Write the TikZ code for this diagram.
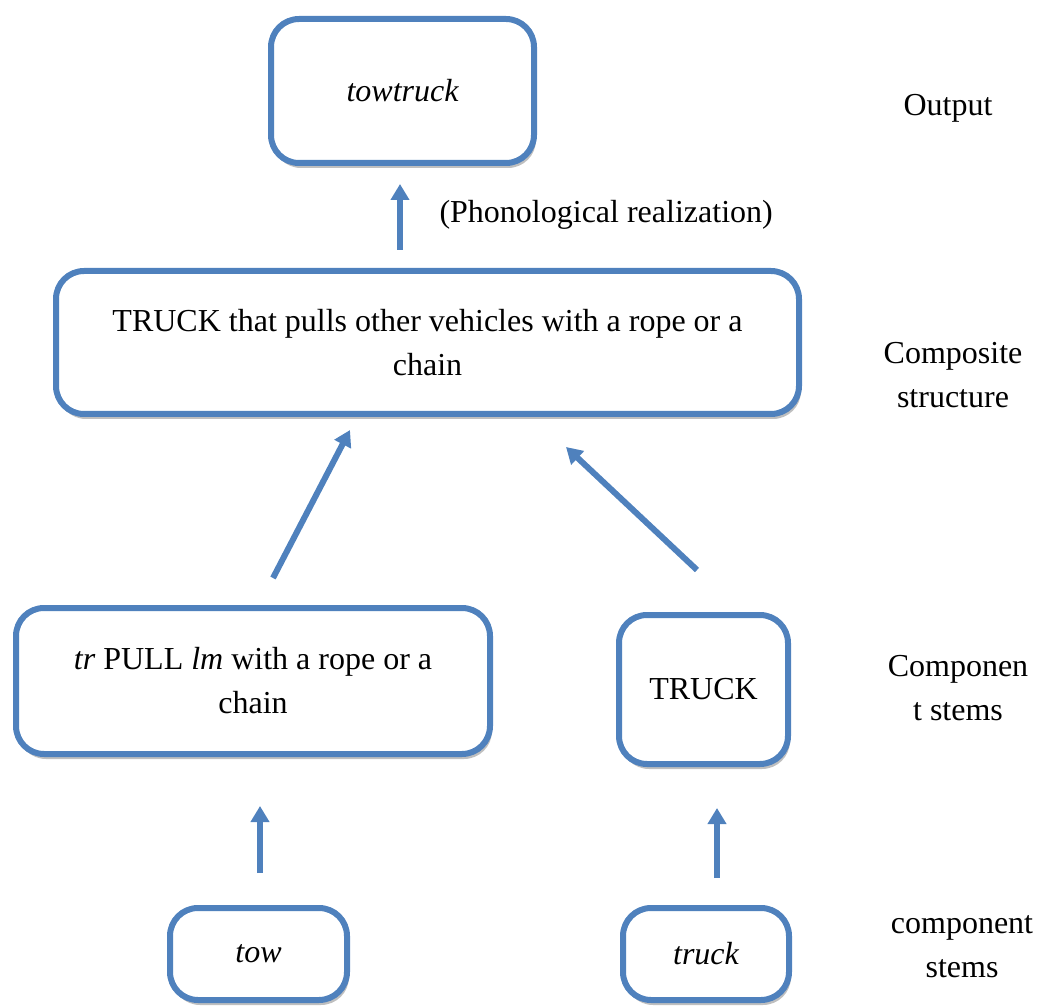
\documentclass[tikz,border=0pt]{standalone}
\usepackage{fontspec}
\setmainfont{Liberation Serif}
\usetikzlibrary{arrows.meta,shadows}
\definecolor{accent}{RGB}{79,129,189}
\begin{document}
\begin{tikzpicture}[x=1pt,y=-1pt,
  stage/.style={draw=accent, line width=6pt, rounded corners=28pt, fill=white,
    align=center, font=\fontsize{32}{44}\selectfont, inner sep=0pt,
    drop shadow={shadow xshift=2pt, shadow yshift=-5pt, fill=black!25, opacity=1}},
  flow/.style={draw=accent, line width=6pt, -{Triangle[width=18pt,length=16pt]}},
  tag/.style={align=center, font=\fontsize{32}{44}\selectfont}]
\useasboundingbox (0,0) rectangle (1037,1008);

% boxes
\node[stage, minimum width=263pt, minimum height=144pt] (out) at (402.5,91) {\itshape towtruck};
\node[stage, minimum width=743pt, minimum height=143pt] (comp) at (427.5,342.5)
  {TRUCK that pulls other vehicles with a rope or a\\chain};
\node[stage, minimum width=474pt, minimum height=146pt] (pull) at (253,681)
  {\textit{tr} PULL \textit{lm} with a rope or a\\chain};
\node[stage, minimum width=169pt, minimum height=149pt] (truckU) at (703.5,689.5) {TRUCK};
\node[stage, minimum width=177pt, minimum height=92pt] (tow) at (258.5,954) {\itshape tow};
\node[stage, minimum width=166pt, minimum height=92pt] (truckL) at (706,954) {\itshape truck};

% arrow end points
\coordinate (a1s) at (400,250); \coordinate (a1e) at (400,184);
\coordinate (a2s) at (273,578); \coordinate (a2e) at (350,430);
\coordinate (a3s) at (697,570); \coordinate (a3e) at (566,447);
\coordinate (a4s) at (260,873); \coordinate (a4e) at (260,806);
\coordinate (a5s) at (717,878); \coordinate (a5e) at (717,808);

\draw[flow] (a1s) -- (a1e);
\draw[flow] (a2s) -- (a2e);
\draw[flow] (a3s) -- (a3e);
\draw[flow] (a4s) -- (a4e);
\draw[flow] (a5s) -- (a5e);

% labels
\node[tag, anchor=west] (phon) at (436,215) {(Phonological realization)};
\node[tag] (lOut) at (948,108) {Output};
\node[tag] (lComp) at (953,375) {Composite\\structure};
\node[tag] (lStem) at (958,688) {Componen\\t stems};
\node[tag] (lLow) at (962,947) {component\\stems};
\end{tikzpicture}
\end{document}
